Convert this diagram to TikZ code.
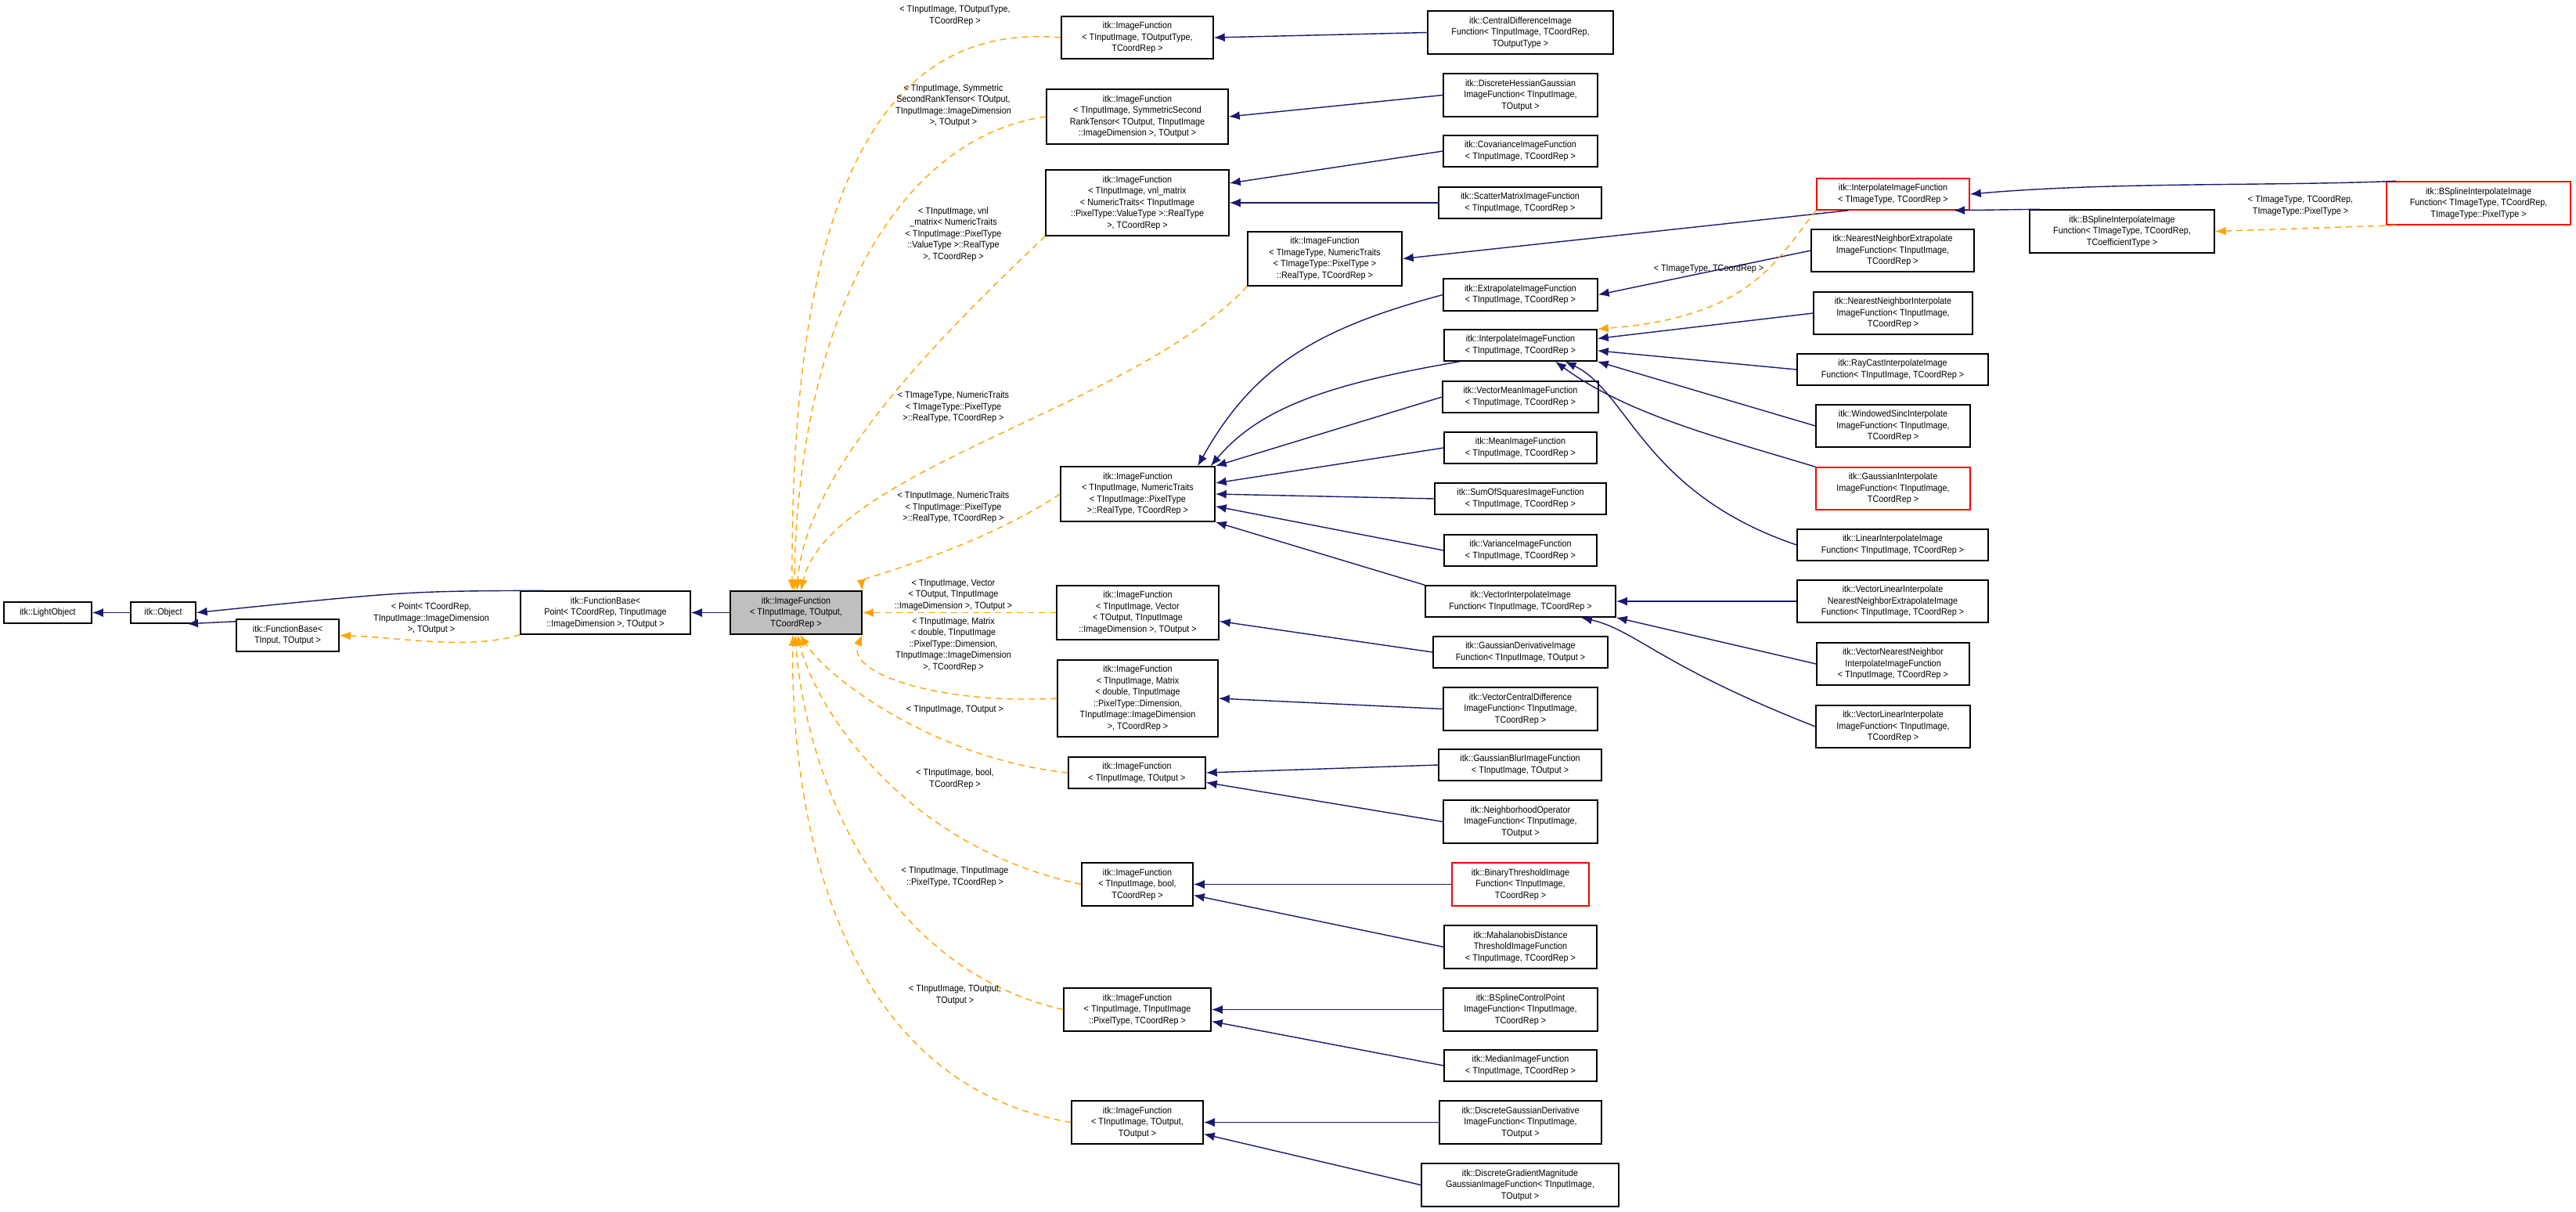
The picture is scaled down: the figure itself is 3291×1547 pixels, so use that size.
\documentclass[tikz,border=0pt]{standalone}
\usepackage{fontspec}
\setmainfont{Liberation Sans}[FakeStretch=0.9]
\usetikzlibrary{arrows.meta}
\definecolor{edgeblue}{RGB}{25,25,112}
\definecolor{tmplorange}{RGB}{255,165,0}
\definecolor{redframe}{RGB}{255,0,0}
\tikzset{
  cls/.style={draw=black, line width=1.5pt, fill=white, inner sep=2pt, align=center,
    font=\fontsize{12}{14.5}\selectfont},
  hl/.style={cls, fill={rgb,255:red,191;green,191;blue,191}},
  redcls/.style={cls, draw=redframe},
  inh/.style={draw=edgeblue, line width=1.4pt, -{Latex[length=14pt,width=11pt]}},
  tmpl/.style={draw=tmplorange, line width=1.4pt, dash pattern=on 8pt off 6pt,
    -{Latex[length=14pt,width=11pt]}},
  lbl/.style={align=center, font=\fontsize{12}{14.5}\selectfont, inner sep=0pt}
}
\begin{document}
\begin{tikzpicture}[x=1pt,y=1pt,yscale=-1]
  \useasboundingbox (0,0) rectangle (3291,1547);
  % left chain
  \node[cls, minimum width=112, minimum height=27] (lo) at (61,782.5) {itk::LightObject};
  \node[cls, minimum width=83, minimum height=27] (obj) at (208.5,782.5) {itk::Object};
  \node[cls, minimum width=131, minimum height=41] (fbin) at (367.5,811.5) {itk::FunctionBase<\\TInput, TOutput >};
  \node[cls, minimum width=217, minimum height=55] (fbpt) at (773.5,782.5) {itk::FunctionBase<\\ Point< TCoordRep, TInputImage\\::ImageDimension >, TOutput >};
  \node[hl, minimum width=168, minimum height=55] (imf) at (1017,782.5) {itk::ImageFunction\\< TInputImage, TOutput,\\ TCoordRep >};
  % template instantiations
  \node[cls, minimum width=194, minimum height=54] (ifOT) at (1453,48) {itk::ImageFunction\\< TInputImage, TOutputType,\\ TCoordRep >};
  \node[cls, minimum width=232, minimum height=70] (ifSym) at (1453,149) {itk::ImageFunction\\< TInputImage, SymmetricSecond\\RankTensor< TOutput, TInputImage\\::ImageDimension >, TOutput >};
  \node[cls, minimum width=234, minimum height=84] (ifVnl) at (1453,259) {itk::ImageFunction\\< TInputImage, vnl\_matrix\\< NumericTraits< TInputImage\\::PixelType::ValueType >::RealType\\ >, TCoordRep >};
  \node[cls, minimum width=197, minimum height=69] (ifTIT) at (1692.5,330.5) {itk::ImageFunction\\< TImageType, NumericTraits\\< TImageType::PixelType >\\::RealType, TCoordRep >};
  \node[cls, minimum width=197, minimum height=70] (ifNT) at (1453.5,631) {itk::ImageFunction\\< TInputImage, NumericTraits\\< TInputImage::PixelType\\ >::RealType, TCoordRep >};
  \node[cls, minimum width=207, minimum height=69] (ifVec) at (1453.5,782.5) {itk::ImageFunction\\< TInputImage, Vector\\< TOutput, TInputImage\\::ImageDimension >, TOutput >};
  \node[cls, minimum width=205, minimum height=98] (ifMat) at (1453.5,892) {itk::ImageFunction\\< TInputImage, Matrix\\< double, TInputImage\\::PixelType::Dimension,\\ TInputImage::ImageDimension\\ >, TCoordRep >};
  \node[cls, minimum width=175, minimum height=40] (ifTO) at (1452.5,987) {itk::ImageFunction\\< TInputImage, TOutput >};
  \node[cls, minimum width=142, minimum height=55] (ifBool) at (1453,1129.5) {itk::ImageFunction\\< TInputImage, bool,\\ TCoordRep >};
  \node[cls, minimum width=188, minimum height=55] (ifPix) at (1453,1289.5) {itk::ImageFunction\\< TInputImage, TInputImage\\::PixelType, TCoordRep >};
  \node[cls, minimum width=168, minimum height=55] (ifOO) at (1453,1433.5) {itk::ImageFunction\\< TInputImage, TOutput,\\ TOutput >};
  % derived classes
  \node[cls, minimum width=237, minimum height=55] (central) at (1942.5,41.5) {itk::CentralDifferenceImage\\Function< TInputImage, TCoordRep,\\ TOutputType >};
  \node[cls, minimum width=197, minimum height=55] (hessian) at (1942.5,121.5) {itk::DiscreteHessianGaussian\\ImageFunction< TInputImage,\\ TOutput >};
  \node[cls, minimum width=197, minimum height=40] (covar) at (1942.5,193) {itk::CovarianceImageFunction\\< TInputImage, TCoordRep >};
  \node[cls, minimum width=208, minimum height=40] (scatter) at (1942,259) {itk::ScatterMatrixImageFunction\\< TInputImage, TCoordRep >};
  \node[cls, minimum width=197, minimum height=41] (extrap) at (1942.5,376.5) {itk::ExtrapolateImageFunction\\< TInputImage, TCoordRep >};
  \node[cls, minimum width=195, minimum height=40] (interpTI) at (1942.5,441) {itk::InterpolateImageFunction\\< TInputImage, TCoordRep >};
  \node[cls, minimum width=199, minimum height=40] (vecMean) at (1942.5,507) {itk::VectorMeanImageFunction\\< TInputImage, TCoordRep >};
  \node[cls, minimum width=195, minimum height=40] (mean) at (1942.5,572) {itk::MeanImageFunction\\< TInputImage, TCoordRep >};
  \node[cls, minimum width=219, minimum height=40] (sumSq) at (1942.5,637) {itk::SumOfSquaresImageFunction\\< TInputImage, TCoordRep >};
  \node[cls, minimum width=195, minimum height=40] (variance) at (1942.5,703) {itk::VarianceImageFunction\\< TInputImage, TCoordRep >};
  \node[cls, minimum width=243, minimum height=40] (vecInterp) at (1942.5,768) {itk::VectorInterpolateImage\\Function< TInputImage, TCoordRep >};
  \node[cls, minimum width=223, minimum height=40] (gaussDeriv) at (1942.5,833) {itk::GaussianDerivativeImage\\Function< TInputImage, TOutput >};
  \node[cls, minimum width=197, minimum height=55] (vecCentral) at (1942.5,905.5) {itk::VectorCentralDifference\\ImageFunction< TInputImage,\\ TCoordRep >};
  \node[cls, minimum width=208, minimum height=40] (gaussBlur) at (1942,977) {itk::GaussianBlurImageFunction\\< TInputImage, TOutput >};
  \node[cls, minimum width=197, minimum height=55] (neighOp) at (1942.5,1049.5) {itk::NeighborhoodOperator\\ImageFunction< TInputImage,\\ TOutput >};
  \node[redcls, minimum width=175, minimum height=55] (binThr) at (1942.5,1129.5) {itk::BinaryThresholdImage\\Function< TInputImage,\\ TCoordRep >};
  \node[cls, minimum width=195, minimum height=55] (mahal) at (1942.5,1209.5) {itk::MahalanobisDistance\\ThresholdImageFunction\\< TInputImage, TCoordRep >};
  \node[cls, minimum width=197, minimum height=55] (bsCtrl) at (1942.5,1289.5) {itk::BSplineControlPoint\\ImageFunction< TInputImage,\\ TCoordRep >};
  \node[cls, minimum width=195, minimum height=40] (median) at (1942.5,1361) {itk::MedianImageFunction\\< TInputImage, TCoordRep >};
  \node[cls, minimum width=207, minimum height=55] (dgDeriv) at (1942.5,1433.5) {itk::DiscreteGaussianDerivative\\ImageFunction< TInputImage,\\ TOutput >};
  \node[cls, minimum width=252, minimum height=55] (dgMag) at (1942,1513.5) {itk::DiscreteGradientMagnitude\\GaussianImageFunction< TInputImage,\\ TOutput >};
  % third column
  \node[redcls, minimum width=195, minimum height=40] (interpTIT) at (2418.5,248) {itk::InterpolateImageFunction\\< TImageType, TCoordRep >};
  \node[cls, minimum width=208, minimum height=54] (nnExtrap) at (2418,320) {itk::NearestNeighborExtrapolate\\ImageFunction< TInputImage,\\ TCoordRep >};
  \node[cls, minimum width=203, minimum height=54] (nnInterp) at (2418.5,400) {itk::NearestNeighborInterpolate\\ImageFunction< TInputImage,\\ TCoordRep >};
  \node[cls, minimum width=244, minimum height=40] (rayCast) at (2418,472) {itk::RayCastInterpolateImage\\Function< TInputImage, TCoordRep >};
  \node[cls, minimum width=197, minimum height=54] (windowed) at (2418.5,544) {itk::WindowedSincInterpolate\\ImageFunction< TInputImage,\\ TCoordRep >};
  \node[redcls, minimum width=197, minimum height=54] (gaussInterp) at (2418.5,624) {itk::GaussianInterpolate\\ImageFunction< TInputImage,\\ TCoordRep >};
  \node[cls, minimum width=244, minimum height=40] (linear) at (2418,696) {itk::LinearInterpolateImage\\Function< TInputImage, TCoordRep >};
  \node[cls, minimum width=244, minimum height=54] (vecLinNN) at (2418,768) {itk::VectorLinearInterpolate\\NearestNeighborExtrapolateImage\\Function< TInputImage, TCoordRep >};
  \node[cls, minimum width=195, minimum height=54] (vecNN) at (2418.5,848) {itk::VectorNearestNeighbor\\InterpolateImageFunction\\< TInputImage, TCoordRep >};
  \node[cls, minimum width=197, minimum height=54] (vecLin) at (2418.5,928) {itk::VectorLinearInterpolate\\ImageFunction< TInputImage,\\ TCoordRep >};
  \node[cls, minimum width=236, minimum height=55] (bsCoef) at (2711,295.5) {itk::BSplineInterpolateImage\\Function< TImageType, TCoordRep,\\ TCoefficientType >};
  \node[redcls, minimum width=235, minimum height=55] (bsRed) at (3166.5,259.5) {itk::BSplineInterpolateImage\\Function< TImageType, TCoordRep,\\ TImageType::PixelType >};
  % inheritance
  \draw[inh] (obj) -- (lo);
  \draw[inh] (fbpt.160) .. controls (520,755) .. (obj.east);
  \draw[inh] (fbin.165) -- (obj.-25);
  \draw[inh] (imf.west) -- (fbpt.east);
  \draw[inh] (central.west) -- (ifOT.east);
  \draw[inh] (hessian.west) -- (ifSym.east);
  \draw[inh] (covar.west) -- (ifVnl.12);
  \draw[inh] (scatter.west) -- (ifVnl.east);
  \draw[inh] (interpTIT.200) -- (ifTIT.east);
  \draw[inh] (bsRed.165) .. controls (2900,238) and (2700,232) .. (interpTIT.east);
  \draw[inh] (bsCoef.165) -- (interpTIT.-15);
  \draw[inh] (nnExtrap.west) -- (extrap.east);
  \draw[inh] (extrap.west) .. controls (1680,420) and (1600,470) .. (ifNT.25);
  \draw[inh] (interpTI.195) .. controls (1700,490) and (1610,520) .. (ifNT.21);
  \draw[inh] (vecMean.west) -- (ifNT.north east);
  \draw[inh] (mean.west) -- (ifNT.8);
  \draw[inh] (sumSq.west) -- (ifNT.east);
  \draw[inh] (variance.west) -- (ifNT.-9);
  \draw[inh] (vecInterp.north west) -- (ifNT.south east);
  \draw[inh] (nnInterp.west) -- (interpTI.5);
  \draw[inh] (rayCast.west) -- (interpTI.-4);
  \draw[inh] (windowed.west) -- (interpTI.south east);
  \draw[inh] (gaussInterp.north west) .. controls (2200,560) and (2080,530) .. (interpTI.-25);
  \draw[inh] (linear.west) .. controls (2100,630) and (2080,500) .. (interpTI.-20);
  \draw[inh] (vecLinNN.west) -- (vecInterp.east);
  \draw[inh] (vecNN.west) -- (vecInterp.south east);
  \draw[inh] (vecLin.west) .. controls (2120,850) and (2090,805) .. (vecInterp.-15);
  \draw[inh] (gaussDeriv.west) -- (ifVec.-6);
  \draw[inh] (vecCentral.west) -- (ifMat.east);
  \draw[inh] (gaussBlur.west) -- (ifTO.east);
  \draw[inh] (neighOp.west) -- (ifTO.-8);
  \draw[inh] (binThr.west) -- (ifBool.east);
  \draw[inh] (mahal.west) -- (ifBool.-11);
  \draw[inh] (bsCtrl.west) -- (ifPix.east);
  \draw[inh] (median.west) -- (ifPix.-9);
  \draw[inh] (dgDeriv.west) -- (ifOO.east);
  \draw[inh] (dgMag.west) -- (ifOO.-10);
  % template arguments
  \draw[tmpl] (fbpt.south west) .. controls (600,830) and (520,815) .. (fbin.east);
  \draw[tmpl] (ifOT.west) .. controls (1100,25) and (1010,300) .. (imf.100);
  \draw[tmpl] (ifSym.west) .. controls (1150,175) and (1020,400) .. (imf.95);
  \draw[tmpl] (ifVnl.south west) .. controls (1200,430) and (1030,600) .. (imf.88);
  \draw[tmpl] (ifTIT.south west) .. controls (1450,520) and (1060,600) .. (imf.78);
  \draw[tmpl] (ifNT.west) .. controls (1250,700) and (1100,740) .. (imf.north east);
  \draw[tmpl] (ifVec.west) -- (imf.east);
  \draw[tmpl] (ifMat.west) .. controls (1200,900) and (1080,860) .. (imf.south east);
  \draw[tmpl] (ifTO.west) .. controls (1200,970) and (1060,870) .. (imf.-80);
  \draw[tmpl] (ifBool.west) .. controls (1150,1080) and (1040,900) .. (imf.-86);
  \draw[tmpl] (ifPix.west) .. controls (1100,1230) and (1025,950) .. (imf.-92);
  \draw[tmpl] (ifOO.west) .. controls (1050,1380) and (1010,1000) .. (imf.-98);
  \draw[tmpl] (interpTIT.south west) .. controls (2270,330) and (2240,405) .. (interpTI.north east);
  \draw[tmpl] (bsRed.195) -- (bsCoef.east);
  % labels
  \node[lbl] (lFb) at (551,790) {< Point< TCoordRep,\\TInputImage::ImageDimension\\ >, TOutput >};
  \node[lbl] (lOT) at (1220,20) {< TInputImage, TOutputType,\\ TCoordRep >};
  \node[lbl] (lSym) at (1218,135) {< TInputImage, Symmetric\\SecondRankTensor< TOutput,\\ TInputImage::ImageDimension\\ >, TOutput >};
  \node[lbl] (lVnl) at (1218,299) {< TInputImage, vnl\\\_matrix< NumericTraits\\< TInputImage::PixelType\\::ValueType >::RealType\\ >, TCoordRep >};
  \node[lbl] (lTIT) at (1218,520) {< TImageType, NumericTraits\\< TImageType::PixelType\\ >::RealType, TCoordRep >};
  \node[lbl] (lNT) at (1218,648) {< TInputImage, NumericTraits\\< TInputImage::PixelType\\ >::RealType, TCoordRep >};
  \node[lbl] (lVec) at (1218,760) {< TInputImage, Vector\\< TOutput, TInputImage\\::ImageDimension >, TOutput >};
  \node[lbl] (lMat) at (1218,823) {< TInputImage, Matrix\\< double, TInputImage\\::PixelType::Dimension,\\ TInputImage::ImageDimension\\ >, TCoordRep >};
  \node[lbl] (lTO) at (1220,907) {< TInputImage, TOutput >};
  \node[lbl] (lBool) at (1220,995) {< TInputImage, bool,\\ TCoordRep >};
  \node[lbl] (lPix) at (1220,1120) {< TInputImage, TInputImage\\::PixelType, TCoordRep >};
  \node[lbl] (lOO) at (1220,1271) {< TInputImage, TOutput,\\ TOutput >};
  \node[lbl] (lInterp) at (2183,343) {< TImageType, TCoordRep >};
  \node[lbl] (lBs) at (2939,263) {< TImageType, TCoordRep,\\ TImageType::PixelType >};
\end{tikzpicture}
\end{document}
